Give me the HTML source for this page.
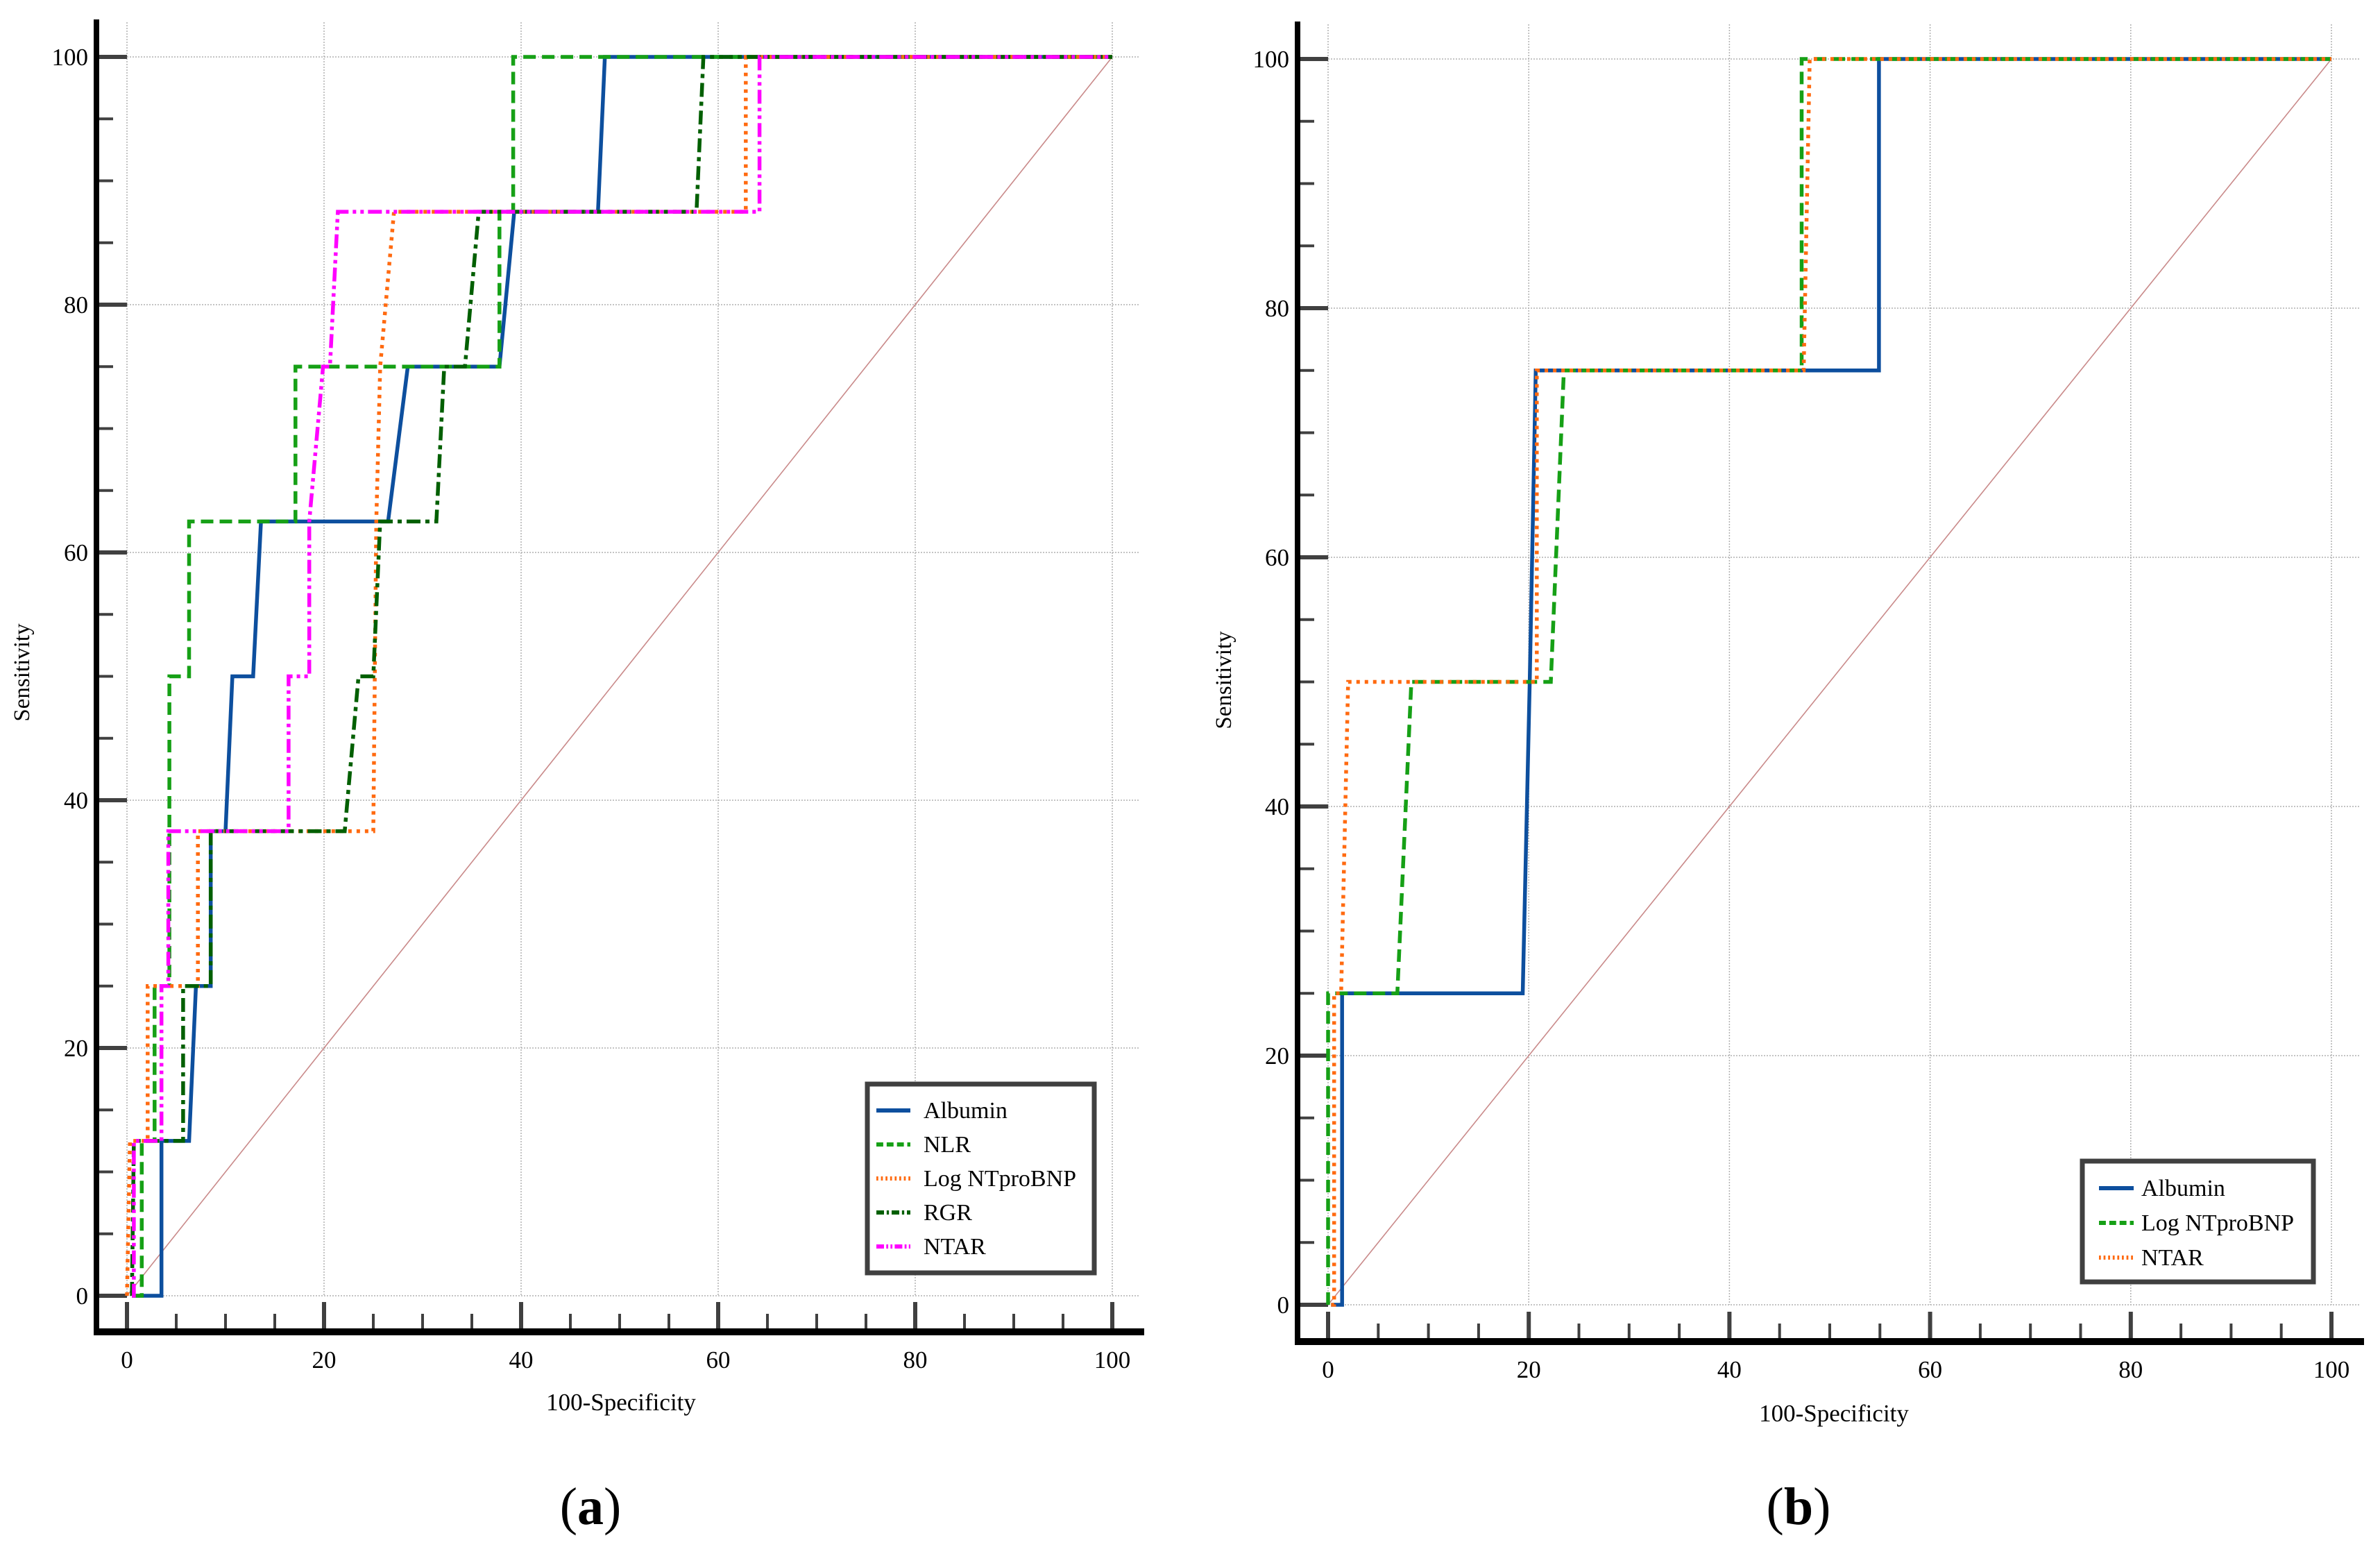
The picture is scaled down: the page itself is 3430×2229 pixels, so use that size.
<!DOCTYPE html>
<html><head><meta charset="utf-8">
<style>
html,body{margin:0;padding:0;background:#fff;}
svg{display:block;}
svg text{font-family:"Liberation Serif","DejaVu Serif",serif;}
</style></head>
<body>
<svg id="chart" width="3430" height="2229" viewBox="0 0 3430 2229" xmlns="http://www.w3.org/2000/svg" font-family="Liberation Serif, serif"></svg>
<script>
// ---------- DATA ----------
const xTicks = [0,20,40,60,80,100];
const yTicks = [0,20,40,60,80,100];
// Panel (a)
const aAlbumin = [[0.7,0],[3.5,0],[3.5,12.5],[6.3,12.5],[7,25],[8.5,25],[8.5,37.5],[10,37.5],[10.7,50],[12.8,50],[13.6,62.5],[26.5,62.5],[28.5,75],[37.8,75],[39.3,87.5],[47.8,87.5],[48.5,100],[100,100]];
const aNLR = [[0.5,0],[1.5,0],[1.5,12.5],[2.8,12.5],[2.8,25],[4.3,25],[4.3,50],[6.3,50],[6.3,62.5],[17.1,62.5],[17.1,75],[37.8,75],[37.8,87.5],[39.2,87.5],[39.2,100],[100,100]];
const aLogNT = [[0,0],[0.3,12.5],[2.1,12.5],[2.1,25],[7.2,25],[7.2,37.5],[25,37.5],[25.3,62.5],[25.7,75],[27.1,87.5],[62.8,87.5],[62.8,100],[100,100]];
const aRGR = [[0.5,0],[0.7,12.5],[5.7,12.5],[5.7,25],[8.5,25],[8.5,37.5],[22.1,37.5],[23.5,50],[25,50],[25.7,62.5],[31.4,62.5],[32.2,75],[34.3,75],[35.7,87.5],[57.8,87.5],[58.5,100],[100,100]];
const aNTAR = [[0.5,0],[0.7,0],[0.7,12.5],[3.5,12.5],[3.5,25],[4.2,25],[4.2,37.5],[16.4,37.5],[16.4,50],[18.5,50],[18.5,62.5],[19.9,75],[20.6,75],[21.4,87.5],[64.2,87.5],[64.2,100],[100,100]];
// Panel (b)
const bAlbumin = [[0.3,0],[1.4,0],[1.4,25],[19.4,25],[20.1,50],[20.7,75],[54.9,75],[54.9,100],[100,100]];
const bLogNT = [[0,0],[0,25],[6.9,25],[8.3,50],[22.2,50],[23.5,75],[47.2,75],[47.2,100],[100,100]];
const bNTAR = [[0.3,0],[0.6,0],[0.6,25],[1.3,25],[2.0,50],[20.8,50],[20.8,75],[47.4,75],[48,100],[100,100]];
const diagonal = [[0,0],[100,100]];

const NS = "http://www.w3.org/2000/svg";
const svg = document.getElementById('chart');
function mk(tag, attrs, parent){const e=document.createElementNS(NS,tag);for(const k in attrs)e.setAttribute(k,attrs[k]);if(tag==='text')e.setAttribute('font-family','Liberation Serif, serif');(parent||svg).appendChild(e);return e;}

const styles = {
  blue:{stroke:"#0d4f9e",dash:"none"},
  greenDash:{stroke:"#16a016",dash:"18,9"},
  orangeDot:{stroke:"#ff6a10",dash:"5,7"},
  darkDashDot:{stroke:"#005f00",dash:"20,7,6,7"},
  magenta:{stroke:"#ff00ff",dash:"20,6,5,6,5,6"}
};

function panel(cfg){
  const g = mk('g',{});
  
  
  const X = v => cfg.x0 + (cfg.x100-cfg.x0)*v/100;
  const Y = v => cfg.y0 + (cfg.y100-cfg.y0)*v/100;
  xTicks.forEach(t=>{
    const l=mk('line',{x1:X(t),x2:X(t),y1:cfg.top+4,y2:cfg.y0,stroke:"#b0b0b0","stroke-width":1.5,"stroke-dasharray":"2,2"},g);
    
    
  });
  yTicks.forEach(t=>{
    const l=mk('line',{x1:X(0),x2:cfg.gridRight,y1:Y(t),y2:Y(t),stroke:"#b0b0b0","stroke-width":1.5,"stroke-dasharray":"2,2"},g);
    
    
  });
  for(let v=0; v<=100; v+=5){
    const major = v%20===0;
    const t=mk('line',{x1:X(v),x2:X(v),y1:major?cfg.axisY-43:cfg.axisY-26,y2:cfg.axisY,stroke:"#404040","stroke-width":major?6:4},g);
    
    
    const u=mk('line',{x1:cfg.axisX,x2:major?X(0):cfg.axisX+24,y1:Y(v),y2:Y(v),stroke:"#404040","stroke-width":major?6:4},g);
    
    
  }
  const ax=mk('line',{x1:cfg.axisX,x2:cfg.axisX,y1:cfg.top,y2:cfg.axisY+5,stroke:"#000","stroke-width":8},g);
  
  
  const ay=mk('line',{x1:cfg.axisX-4,x2:cfg.axisRight,y1:cfg.axisY,y2:cfg.axisY,stroke:"#000","stroke-width":10},g);
  
  
  xTicks.forEach(t=>{
    const tx=mk('text',{x:X(t),y:cfg.axisY+52,"font-size":35,"text-anchor":"middle",fill:"#000"},g);
    tx.textContent=t;
    
    
  });
  yTicks.forEach(t=>{
    const tx=mk('text',{x:cfg.axisX-12,y:Y(t)+12,"font-size":35,"text-anchor":"end",fill:"#000"},g);
    tx.textContent=t;
    
    
  });
  const xt=mk('text',{x:cfg.xTitleX,y:cfg.xTitleY,"font-size":35,"text-anchor":"middle"},g);
  xt.textContent="100-Specificity";
  
  
  const yt=mk('text',{x:0,y:0,"font-size":33,"text-anchor":"middle",transform:`translate(${cfg.yTitleX},${cfg.yTitleY}) rotate(-90)`},g);
  yt.textContent="Sensitivity";
  
  
  const pl=mk('text',{x:cfg.labelX,y:2196,"font-size":76,"text-anchor":"middle"},g);
  pl.innerHTML='(<tspan font-weight="bold">'+cfg.letter+'</tspan>)';
  
  
  const d=mk('polyline',{points:diagonal.map(p=>X(p[0])+','+Y(p[1])).join(' '),fill:"none",stroke:"#c98a8a","stroke-width":1.6},g);
  
  
  cfg.series.forEach(s=>{
    const st=styles[s.style];
    const p=mk('polyline',{points:s.data.map(q=>X(q[0]).toFixed(1)+','+Y(q[1]).toFixed(1)).join(' '),fill:"none",stroke:st.stroke,"stroke-width":5.5,"stroke-dasharray":st.dash,"stroke-linejoin":"miter"},g);
    
    
  });
  const L=cfg.legend;
  const lg=mk('g',{},g);
  
  
  mk('rect',{x:L.x,y:L.y,width:L.w,height:L.h,fill:"#fff",stroke:"#404040","stroke-width":7},lg);
  cfg.series.forEach((s,i)=>{
    const st=styles[s.style];
    const yy=L.firstY+i*L.step;
    const e=mk('g',{},lg);
    
    
    mk('line',{x1:L.lx1,x2:L.lx2,y1:yy,y2:yy,stroke:st.stroke,"stroke-width":6,"stroke-dasharray":st.dash==="none"?"none":st.dash.split(',').map(v=>v*0.55).join(',')},e);
    const t=mk('text',{x:L.tx,y:yy+11,"font-size":34},e);
    t.textContent=s.name;
  });
}

panel({id:'a',letter:'a',x0:183,x100:1603,y0:1867,y100:82,top:28,axisX:139,axisY:1919,axisRight:1649,gridRight:1643,
  xTitleX:895,xTitleY:2032,yTitleX:42,yTitleY:969,labelX:851,
  series:[{key:'albumin',name:'Albumin',style:'blue',data:aAlbumin},{key:'nlr',name:'NLR',style:'greenDash',data:aNLR},{key:'lognt',name:'Log NTproBNP',style:'orangeDot',data:aLogNT},{key:'rgr',name:'RGR',style:'darkDashDot',data:aRGR},{key:'ntar',name:'NTAR',style:'magenta',data:aNTAR}],
  legend:{x:1250,y:1562,w:327,h:272,firstY:1600,step:49,lx1:1263,lx2:1312,tx:1331}});
panel({id:'b',letter:'b',x0:1914,x100:3360,y0:1880,y100:85,top:31,axisX:1870,axisY:1933,axisRight:3407,gridRight:3400,
  xTitleX:2643,xTitleY:2048,yTitleX:1774,yTitleY:980,labelX:2592,
  series:[{key:'albumin',name:'Albumin',style:'blue',data:bAlbumin},{key:'lognt',name:'Log NTproBNP',style:'greenDash',data:bLogNT},{key:'ntar',name:'NTAR',style:'orangeDot',data:bNTAR}],
  legend:{x:3001,y:1673,w:333,h:174,firstY:1712,step:50,lx1:3025,lx2:3075,tx:3086}});
</script>
</body></html>
